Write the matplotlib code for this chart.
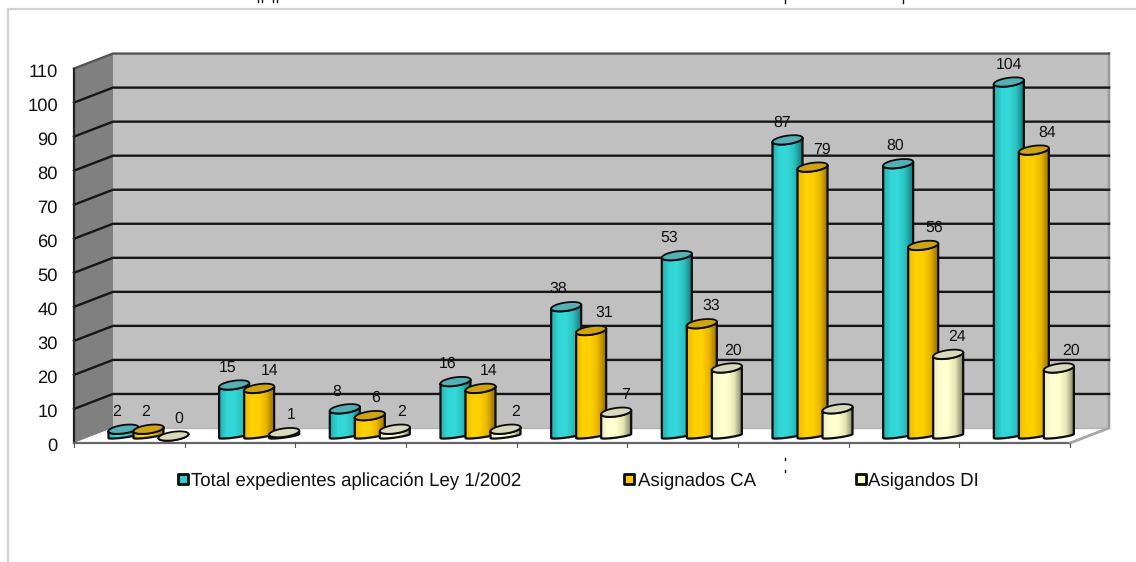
import numpy as np
import matplotlib
matplotlib.use('Agg')
import matplotlib.pyplot as plt
from matplotlib.colors import LinearSegmentedColormap
from matplotlib.patches import Polygon

plt.rcParams['font.family'] = ['Liberation Sans', 'DejaVu Sans']
plt.rcParams['text.hinting'] = 'no_hinting'

# values per year group
total = [2, 15, 8, 16, 38, 53, 87, 80, 104]
asignados_ca = [2, 14, 6, 14, 31, 33, 79, 56, 84]
asignados_di = [0, 1, 2, 2, 7, 20, 8, 24, 20]
y_ticks = list(range(0, 111, 10))
series_names = ['Total expedientes aplicación Ley 1/2002', 'Asignados CA', 'Asigandos DI']
hidden_labels = [(2, 6)]  # the 8 in the last series has no label

# scale of the drawing
W, H = 1136, 562
X0, CAT_W = 74, 110.67
Y0, UNIT = 443, 3.404
DEPTH_X, DEPTH_Y = 39, 15
N_CAT = len(total)


def px(x, y):
    # pixel position to data position
    return (x - X0) / CAT_W, (Y0 - y) / UNIT


fig = plt.figure(figsize=(W / 100, H / 100), dpi=100)
ax = fig.add_axes([0, 0, 1, 1])
ax.axis('off')

dx = DEPTH_X / CAT_W
dy = DEPTH_Y / UNIT
vmax = y_ticks[-1]

# outer frame, only left and top show
fx, fy = zip(px(8, H), px(8, 9), px(W, 9))
ax.plot(fx, fy, color='#d2d2d2', lw=1.6, solid_joinstyle='miter')

# walls and floor
ax.add_patch(Polygon([(dx, dy), (N_CAT + dx, dy), (N_CAT + dx, vmax + dy), (dx, vmax + dy)],
                     fc='#c0c0c0', ec='none', zorder=1))
ax.add_patch(Polygon([(0, 0), (dx, dy), (dx, vmax + dy), (0, vmax)], fc='#808080', ec='none', zorder=1))
ax.add_patch(Polygon([(0, 0), (N_CAT, 0), (N_CAT + dx, dy), (dx, dy)], fc='white', ec='none', zorder=1))
ax.plot([N_CAT + dx, N_CAT + dx, N_CAT], [vmax + dy, dy, 0], color='#9a9a9a', lw=1.8, zorder=2)
ax.plot([dx, N_CAT + dx], [dy, dy], color='#b4b4b4', lw=1.0, zorder=2)

for v in y_ticks[1:]:
    color = '#555555' if v == vmax else '#161616'
    ax.plot([0, dx, N_CAT + dx], [v, v + dy, v + dy], color=color, lw=1.7, zorder=3)

ax.plot([0, 0], [0, vmax], color='#222222', lw=1.6, zorder=4)
ax.plot([0, N_CAT], [0, 0], color='#666666', lw=1.6, zorder=4)
ax.plot([N_CAT, N_CAT + dx], [0, dy], color='#a8a8a8', lw=1.6, zorder=4)
for i in range(N_CAT + 1):
    ax.plot([i, i], [0, -4 / UNIT], color='#555555', lw=0.8, zorder=4)

for v in y_ticks:
    ax.text(px(58, 0)[0], v - 3.5 / UNIT, str(v), ha='right', va='center', fontsize=13.2, color='#111111')

# cylinders
series = [total, asignados_ca, asignados_di]
offsets = [0.447, 0.673, 0.899]
ramps = [['#26aeb0', '#33d6d6', '#35d8d8', '#2cc0c0', '#147c7e'],
         ['#f0b800', '#ffd200', '#ffd000', '#e8b400', '#967000'],
         ['#eeeec4', '#ffffd2', '#ffffcf', '#e6e6b4', '#85856a']]
lids = ['#52b0b6', '#cfa410', '#d9d9bd']
HALF_W = 15 / CAT_W
LID_H = 4.2 / UNIT
FOOT_H = 1.6 / UNIT
TILT = 2.0 / UNIT
BASE = 7 / UNIT
t_front = np.linspace(np.pi, 0, 40)
t_all = np.linspace(0, 2 * np.pi, 80)

z = 10
for i in range(N_CAT):
    for s, values in enumerate(series):
        v = values[i]
        cx = i + offsets[s]
        top = v + BASE
        # body outline: foot arc then front of the lid
        bx = cx + HALF_W * np.cos(t_front)
        by = BASE - FOOT_H * np.sin(t_front) + TILT * np.cos(t_front)
        tx = cx + HALF_W * np.cos(t_front[::-1])
        ty = top - LID_H * np.sin(t_front[::-1]) + TILT * np.cos(t_front[::-1])
        outline = np.column_stack([np.r_[bx, tx], np.r_[by, ty]])

        body = Polygon(outline, fc='none', ec='none', zorder=z)
        ax.add_patch(body)
        cmap = LinearSegmentedColormap.from_list('c', ramps[s])
        grad = np.linspace(0, 1, 64).reshape(1, -1)
        im = ax.imshow(grad, cmap=cmap, aspect='auto', zorder=z, interpolation='bilinear',
                       extent=[cx - HALF_W, cx + HALF_W, BASE - 4 / UNIT, top + 4 / UNIT])
        im.set_clip_path(body)
        ax.add_patch(Polygon(outline, fc='none', ec='#0c0c0c', lw=1.6, joinstyle='round', zorder=z + 1))

        lx = cx + HALF_W * np.cos(t_all)
        ly = top + LID_H * np.sin(t_all) + TILT * np.cos(t_all)
        ax.add_patch(Polygon(np.column_stack([lx, ly]), fc=lids[s], ec='#0c0c0c', lw=1.3, zorder=z + 2))
        z += 3

# value labels, nudged sideways from each cylinder
label_dx = [[-7, -7, -8, -8, -8, -8, -5, -3, 0],
            [-3, 10, 6, 8, 13, 9, 10, 11, 13],
            [5, 7, 7, 10, 9, 6, 0, 9, 12]]
for s, values in enumerate(series):
    for i, v in enumerate(values):
        if (s, i) in hidden_labels:
            continue
        x_lab = i + offsets[s] + label_dx[s][i] / CAT_W
        ax.text(x_lab, v + BASE + 17.5 / UNIT, str(v), ha='center', va='center',
                fontsize=11.4, color='#111111', zorder=500)

# legend row
key_x = [182.5, 629, 860.5]
text_x = [191, 638, 868]
key_colors = ['#33cccc', '#ffcc00', '#ffffcc']
for name, kx, tx_, c in zip(series_names, key_x, text_x, key_colors):
    ax.scatter(*px(kx, 479), marker='s', s=62, fc=c, ec='#0c0c0c', lw=2, zorder=6)
    ax.text(*px(tx_, 481), name, ha='left', va='center', fontsize=13.4, color='#111111')

# specks near the legend and the cut-off heading strokes on the top edge
for xp, y1, y2 in [(785, 458, 460), (785, 470, 472), (258, 0, 2), (262, 0, 2), (273, 0, 2),
                   (277, 0, 2), (785, 0, 3), (903, 0, 3)]:
    a, b = px(xp, y1), px(xp, y2)
    ax.plot([a[0], b[0]], [a[1], b[1]], color='#111111', lw=1.0)

x_min, y_top = px(0, 0)
x_max, y_bot = px(W, H)
ax.set_xlim(x_min, x_max)
ax.set_ylim(y_bot, y_top)

fig.savefig('out.png', dpi=100, facecolor='white')
